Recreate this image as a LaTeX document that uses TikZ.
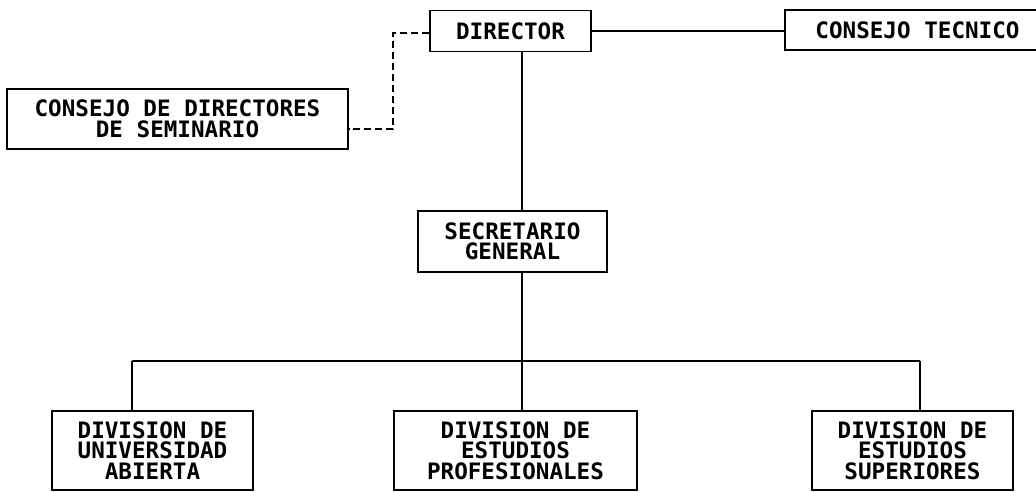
\documentclass[tikz,border=0pt]{standalone}
\usepackage{fontspec}
\setmonofont{DejaVu Sans Mono}
\usetikzlibrary{calc}

\tikzset{
  caja/.style={draw, line width=1.8pt, inner sep=0pt, align=center,
    font=\ttfamily\bfseries\fontsize{22.6}{20.5}\selectfont},
  linea/.style={line width=1.8pt},
  punteada/.style={line width=1.8pt, dash pattern=on 7pt off 4pt}
}

\begin{document}
\begin{tikzpicture}[x=1pt,y=-1pt]
  \useasboundingbox (0,0) rectangle (1036,491);

  % cajas
  \node [caja, minimum width=161pt, minimum height=41pt] (dir) at (510.5,31) {DIRECTOR};
  \node [caja, minimum width=265pt, minimum height=40pt] (tec) at (917.5,30) {CONSEJO TECNICO};
  \node [caja, minimum width=341pt, minimum height=60pt] (sem) at (177.5,119) {CONSEJO DE DIRECTORES\\DE SEMINARIO};
  \node [caja, minimum width=189pt, minimum height=61pt] (sec) at (512.5,241.5) {SECRETARIO\\GENERAL};

  \node [caja, minimum width=201pt, minimum height=79pt] (uni) at (152.5,450.5) {DIVISION DE\\UNIVERSIDAD\\ABIERTA};
  \node [caja, minimum width=243pt, minimum height=79pt] (pro) at (515.5,450.5) {DIVISION DE\\ESTUDIOS\\PROFESIONALES};
  \node [caja, minimum width=201pt, minimum height=79pt] (sup) at (912.5,450.5) {DIVISION DE\\ESTUDIOS\\SUPERIORES};

  % puntos de quiebre
  \coordinate (codo) at (393,129);
  \coordinate (eje) at (522,361);
  \coordinate (izq) at (132,361);
  \coordinate (der) at (920,361);

  % lineas
  \draw [linea] (dir.east) -- (dir.east -| tec.west);
  \draw [punteada] ([yshift=-2pt]dir.west) -| (codo) -- (codo -| sem.east);
  \draw [linea] (dir.south -| eje) -- (sec.north -| eje);
  \draw [linea] (sec.south -| eje) -- (eje);
  \draw [linea] (izq) -- (der);
  \draw [linea] (izq) -- (izq |- uni.north);
  \draw [linea] (eje) -- (eje |- pro.north);
  \draw [linea] (der) -- (der |- sup.north);
\end{tikzpicture}
\end{document}
